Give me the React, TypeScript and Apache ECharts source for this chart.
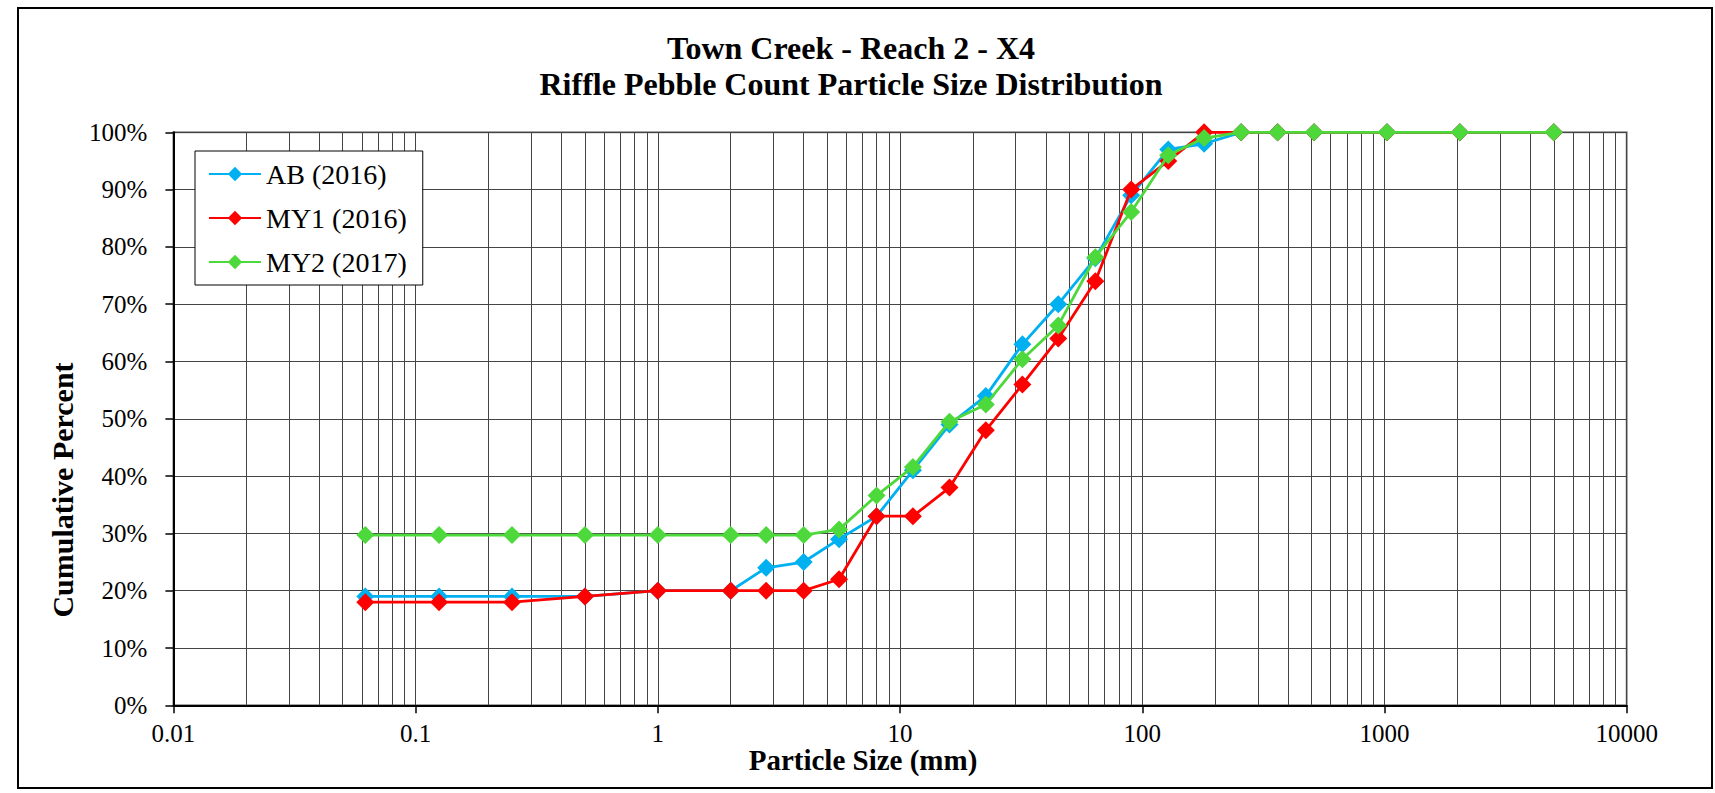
import React, { useEffect, useRef } from "react";
import * as echarts from "echarts";

// Sieve sizes (mm) and cumulative percent finer for each survey
const SIZES_MM = [0.062, 0.125, 0.25, 0.5, 1, 2, 2.8, 4, 5.6, 8, 11.3, 16, 22.6, 32, 45, 64, 90, 128, 180, 256, 362, 512, 1024, 2048, 5000];
const AB_2016 = [19, 19, 19, 19, 20, 20, 24, 25, 29, 33, 41, 49, 54, 63, 70, 78, 89, 97, 98, 100, 100, 100, 100, 100, 100];
const MY1_2016 = [18, 18, 18, 19, 20, 20, 20, 20, 22, 33, 33, 38, 48, 56, 64, 74, 90, 95, 100, 100, 100, 100, 100, 100, 100];
const MY2_2017 = [29.7, 29.7, 29.7, 29.7, 29.7, 29.7, 29.7, 29.7, 30.7, 36.6, 41.6, 49.5, 52.5, 60.4, 66.3, 78.2, 86.1, 96.0, 99.0, 100, 100, 100, 100, 100, 100];

const SERIES_NAMES = ["AB (2016)", "MY1 (2016)", "MY2 (2017)"];
const SERIES_COLORS = ["#00B0F0", "#FF0000", "#4DD93B"];

const TITLE_LINES = ["Town Creek - Reach 2 - X4", "Riffle Pebble Count Particle Size Distribution"];
const X_TITLE = "Particle Size (mm)";
const Y_TITLE = "Cumulative Percent";

// log-axis minor gridline positions: multiples 2..9 of each decade
const DECADES = [0.01, 0.1, 1, 10, 100, 1000];
const MINOR_MULTIPLIERS = [2, 3, 4, 5, 6, 7, 8, 9];

const FONT = "Liberation Serif, Times New Roman, serif";

export default function App() {
  const ref = useRef<HTMLDivElement>(null);

  useEffect(() => {
    if (!ref.current) return;
    const chart = echarts.init(ref.current, undefined, { renderer: "svg" });

    const pairs = (vals: number[]) => SIZES_MM.map((x, i) => [x, vals[i]]);
    const allSeries = [AB_2016, MY1_2016, MY2_2017];

    const minorLines: any[] = [];
    DECADES.forEach((d) => MINOR_MULTIPLIERS.forEach((m) => minorLines.push({ xAxis: Number((d * m).toPrecision(6)) })));

    const option: any = {
      animation: false,
      backgroundColor: "#fff",
      textStyle: { fontFamily: FONT },
      grid: {
        left: 173.4,
        right: 88.3,
        top: 132.3,
        bottom: 87.7,
        show: true,
        borderColor: "#888",
        borderWidth: 2,
        backgroundColor: "transparent",
      },
      legend: {
        data: SERIES_NAMES,
        orient: "vertical",
        left: 195,
        top: 151,
        backgroundColor: "#fff",
        borderColor: "#000",
        borderWidth: 1,
        borderRadius: 0,
        padding: [9, 16, 9, 13],
        itemWidth: 52,
        itemHeight: 18,
        itemGap: 16,
        textStyle: { fontFamily: FONT, fontSize: 28, color: "#000" },
      },
      xAxis: {
        type: "log",
        logBase: 10,
        min: 0.01,
        max: 10000,
        axisLine: { show: true, lineStyle: { color: "#000", width: 2 } },
        axisTick: { show: true, length: 8, lineStyle: { color: "#000", width: 1.5 } },
        axisLabel: {
          margin: 16,
          fontFamily: FONT,
          fontSize: 25,
          color: "#000",
          formatter: (v: number) => String(Number(v.toPrecision(4))),
        },
        splitLine: { show: true, lineStyle: { color: "#444", width: 1 } },
      },
      yAxis: {
        type: "value",
        min: 0,
        max: 100,
        interval: 10,
        axisLine: { show: true, lineStyle: { color: "#000", width: 2 } },
        axisTick: { show: true, length: 8, lineStyle: { color: "#000", width: 1.5 } },
        axisLabel: { margin: 26, fontFamily: FONT, fontSize: 25, color: "#000", formatter: "{value}%" },
        splitLine: { show: true, lineStyle: { color: "#444", width: 1 } },
      },
      series: [
        {
          name: "__minor",
          type: "line",
          data: [],
          z: 1,
          silent: true,
          markLine: {
            z: 1,
            silent: true,
            symbol: ["none", "none"],
            label: { show: false },
            lineStyle: { color: "#444", width: 1, type: "solid" },
            emphasis: { disabled: true },
            animation: false,
            data: minorLines,
          },
        },
        ...allSeries.map((vals, i) => ({
          name: SERIES_NAMES[i],
          type: "line",
          data: pairs(vals),
          symbol: "diamond",
          symbolSize: 18,
          color: SERIES_COLORS[i],
          itemStyle: { color: SERIES_COLORS[i] },
          lineStyle: { color: SERIES_COLORS[i], width: 2.8 },
          z: 3 + i,
          emphasis: { disabled: true },
        })),
      ],
      graphic: [
        {
          type: "rect",
          silent: true,
          z: 100,
          shape: { x: 18, y: 8, width: 1694, height: 780 },
          style: { fill: "none", stroke: "#000", lineWidth: 2 },
        },
        {
          type: "text",
          x: 851,
          y: 47.5,
          style: { text: TITLE_LINES[0], fontFamily: FONT, fontSize: 32, fontWeight: "bold", fill: "#000", align: "center", verticalAlign: "middle" },
        },
        {
          type: "text",
          x: 851,
          y: 84.2,
          style: { text: TITLE_LINES[1], fontFamily: FONT, fontSize: 32, fontWeight: "bold", fill: "#000", align: "center", verticalAlign: "middle" },
        },
        {
          type: "text",
          x: 863,
          y: 760,
          style: { text: X_TITLE, fontFamily: FONT, fontSize: 29, fontWeight: "bold", fill: "#000", align: "center", verticalAlign: "middle" },
        },
        {
          type: "text",
          x: 62.5,
          y: 490,
          rotation: Math.PI / 2,
          style: { text: Y_TITLE, fontFamily: FONT, fontSize: 30, fontWeight: "bold", fill: "#000", align: "center", verticalAlign: "middle" },
        },
      ],
    };

    chart.setOption(option);
    return () => chart.dispose();
  }, []);

  return (
    <div
      ref={ref}
      style={{ position: "absolute", left: 0, top: 0, width: 1715, height: 793, background: "#fff" }}
    />
  );
}
